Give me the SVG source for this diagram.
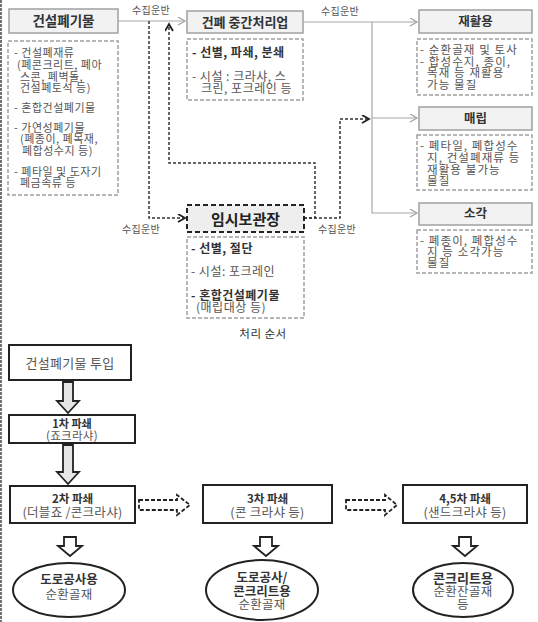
<svg xmlns="http://www.w3.org/2000/svg" width="538" height="622" viewBox="0 0 538 622">
<defs>
<style>
text{font-family:"Noto Sans CJK KR","Liberation Sans",sans-serif;}
.t{font-size:11px;fill:#555;letter-spacing:0.5px;}
.tr{font-size:11.5px;fill:#555;letter-spacing:1.1px;}
.tm{font-size:12px;fill:#555;letter-spacing:0.5px;}
.b{font-weight:bold;fill:#333;}
.ttl{font-size:12.5px;fill:#333;font-weight:bold;text-anchor:middle;}
.lbl{font-size:10px;fill:#555;text-anchor:middle;letter-spacing:0.3px;}
.hb{fill:#f2f2f2;stroke:#a0a0a0;stroke-width:1.5;}
.db{fill:#fff;stroke:#a0a0a0;stroke-width:1.5;stroke-dasharray:4,2;}
.sl{fill:none;stroke:#a8a8a8;stroke-width:1.2;}
.dl{fill:none;stroke:#333;stroke-width:1.5;stroke-dasharray:3,2;}
.bx{fill:#fff;stroke:#222;stroke-width:2;}
.c{text-anchor:middle;}
.bt{font-size:11.5px;fill:#333;font-weight:bold;text-anchor:middle;}
.nt{font-size:12.5px;fill:#555;text-anchor:middle;letter-spacing:0.3px;}
.ar{fill:#fff;stroke:#222;stroke-width:1.8;}
.ard{fill:#fff;stroke:#222;stroke-width:1.8;stroke-dasharray:4,2;}
</style>
<marker id="ag" markerWidth="10" markerHeight="10" refX="8" refY="4" orient="auto" markerUnits="userSpaceOnUse"><path d="M1,0 L8,4 L1,8" fill="none" stroke="#a0a0a0" stroke-width="1.2"/></marker>
<marker id="ad" markerWidth="10" markerHeight="10" refX="8" refY="4" orient="auto" markerUnits="userSpaceOnUse"><path d="M1,0 L8,4 L1,8" fill="none" stroke="#222" stroke-width="1.8"/></marker>
</defs>
<rect width="538" height="622" fill="#fff"/>
<line x1="1" y1="0" x2="1" y2="622" stroke="#444" stroke-width="1.5" stroke-dasharray="3,1"/>

<g id="connectors">
<path class="sl" d="M118,21 H185" marker-end="url(#ag)"/>
<path class="sl" d="M303,22 H417" marker-end="url(#ag)"/>
<path class="sl" d="M372,22 V213 H417" marker-end="url(#ag)"/>
<path class="sl" d="M372,118 H417" marker-end="url(#ag)"/>
<path class="dl" d="M149,21 V218 H185" marker-end="url(#ad)"/>
<path class="dl" d="M304,218 H315 V163 H169 V24" marker-end="url(#ad)"/>
<path class="dl" d="M304,218 H340 V119 H369" marker-end="url(#ad)"/>
<text class="lbl" x="151" y="14">수집운반</text>
<text class="lbl" x="340" y="15">수집운반</text>
<text class="lbl" x="141" y="233">수집운반</text>
<text class="lbl" x="337" y="233">수집운반</text>
<path class="ar" style="fill:#e6e6e6" d="M63,382 H73 V401 H79 L68,413 L57,401 H63 Z"/>
<path class="ar" style="fill:#e6e6e6" d="M63,445 H73 V472 H79 L68,484 L57,472 H63 Z"/>
<path class="ard" d="M139,500 H177 V495 L190,505 L177,515 V510 H139 Z"/>
<path class="ard" d="M346,500 H385 V495 L397,505 L385,515 V510 H346 Z"/>
<path class="ar" d="M64,537 H76 V546 H82 L70,556 L58,546 H64 Z"/>
<path class="ar" d="M260,537 H272 V546 H278 L266,556 L254,546 H260 Z"/>
<path class="ar" d="M459,537 H471 V546 H477 L465,556 L453,546 H459 Z"/>
</g>

<g id="n-waste">
<rect class="hb" x="9" y="9" width="109" height="24"/>
<text class="ttl" x="63.5" y="26" style="font-size:13.5px">건설폐기물</text>
</g>
<g id="n-waste-detail">
<rect class="db" x="8" y="41" width="110" height="154"/>
<text class="t"><tspan x="14" y="57">- 건설폐재류</tspan><tspan x="17" y="69">(폐콘크리트, 폐아</tspan><tspan x="20" y="81">스콘, 폐벽돌,</tspan><tspan x="20" y="92">건설폐토석 등)</tspan><tspan x="14" y="112">- 혼합건설폐기물</tspan><tspan x="14" y="132">- 가연성폐기물</tspan><tspan x="20" y="143">(폐종이, 폐목재,</tspan><tspan x="22" y="155">폐합성수지 등)</tspan><tspan x="14" y="176">- 폐타일 및 도자기</tspan><tspan x="20" y="187">폐금속류 등</tspan></text>
</g>

<g id="n-mid">
<rect class="hb" x="187" y="11" width="116" height="22"/>
<text class="ttl" x="245" y="27" style="font-size:13px">건폐 중간처리업</text>
</g>
<g id="n-mid-detail">
<rect class="db" x="187" y="39" width="116" height="61"/>
<text class="tm b" x="192" y="57">- 선별, 파쇄, 분쇄</text>
<text class="tm"><tspan x="192" y="81">- 시설 : 크라샤, 스</tspan><tspan x="201" y="93">크린, 포크레인 등</tspan></text>
</g>

<g id="n-recycle">
<rect class="hb" x="419" y="10" width="113" height="23"/>
<text class="ttl" x="475.5" y="26">재활용</text>
</g>
<g id="n-recycle-detail">
<rect class="db" x="417" y="39" width="115" height="56"/>
<text class="tr"><tspan x="420" y="54">- 순환골재 및 토사</tspan><tspan x="420" y="66">- 합성수지, 종이,</tspan><tspan x="427" y="77">목재 등 재활용</tspan><tspan x="427" y="89">가능 물질</tspan></text>
</g>

<g id="n-landfill">
<rect class="hb" x="419" y="107" width="113" height="23"/>
<text class="ttl" x="475.5" y="123">매립</text>
</g>
<g id="n-landfill-detail">
<rect class="db" x="417" y="135" width="115" height="55"/>
<text class="tr"><tspan x="420" y="150">- 폐타일, 폐합성수</tspan><tspan x="427" y="162">지, 건설폐재류 등</tspan><tspan x="427" y="174">재활용 불가능</tspan><tspan x="427" y="185">물질</tspan></text>
</g>

<g id="n-incin">
<rect class="hb" x="419" y="203" width="113" height="22"/>
<text class="ttl" x="475.5" y="218">소각</text>
</g>
<g id="n-incin-detail">
<rect class="db" x="417" y="230" width="115" height="43"/>
<text class="tr"><tspan x="420" y="245">- 폐종이, 폐합성수</tspan><tspan x="427" y="256">지 등 소각가능</tspan><tspan x="427" y="267">물질</tspan></text>
</g>

<g id="n-temp">
<rect x="187" y="205" width="117" height="27" fill="#eee" stroke="#222" stroke-width="2" stroke-dasharray="5,3"/>
<text class="ttl" x="245.5" y="224.5" style="font-size:15px;fill:#222">임시보관장</text>
</g>
<g id="n-temp-detail">
<rect class="db" x="187" y="237" width="117" height="81"/>
<text class="tm b" x="191" y="253">- 선별, 절단</text>
<text class="tm" x="191" y="276">- 시설: 포크레인</text>
<text class="tm"><tspan x="191" y="300" class="b">- 혼합건설폐기물</tspan><tspan x="196" y="312">(매립대상 등)</tspan></text>
</g>

<text x="263" y="338" class="c" style="font-size:11.5px;fill:#333;letter-spacing:0.5px">처리 순서</text>

<g id="b-input">
<rect class="bx" x="9" y="345" width="122" height="35"/>
<text class="nt" x="70" y="367.5" style="font-size:13px">건설폐기물 투입</text>
</g>
<g id="b-1st">
<rect class="bx" x="9" y="415" width="126" height="28"/>
<text class="bt" style="font-size:11px"><tspan x="72" y="428">1차 파쇄</tspan><tspan x="72" y="440" class="nt" style="font-size:11.5px;font-weight:normal">(죠크라샤)</tspan></text>
</g>
<g id="b-2nd">
<rect class="bx" x="10" y="486" width="125" height="37"/>
<text class="bt"><tspan x="72.5" y="503">2차 파쇄</tspan><tspan x="72.5" y="517" class="nt" style="font-weight:normal">(더블죠 /콘크라샤)</tspan></text>
</g>
<g id="b-3rd">
<rect class="bx" x="203" y="485" width="129" height="38"/>
<text class="bt"><tspan x="267.5" y="503">3차 파쇄</tspan><tspan x="267.5" y="517" class="nt" style="font-weight:normal">(콘 크라샤 등)</tspan></text>
</g>
<g id="b-45th">
<rect class="bx" x="403" y="485" width="124" height="38"/>
<text class="bt"><tspan x="465" y="503">4,5차 파쇄</tspan><tspan x="465" y="517" class="nt" style="font-weight:normal">(샌드크라샤 등)</tspan></text>
</g>
<g id="e-road">
<ellipse class="bx" cx="69" cy="590" rx="56" ry="27"/>
<text class="bt" style="font-size:12.5px"><tspan x="69" y="584">도로공사용</tspan><tspan x="69" y="599" class="nt" style="font-weight:normal">순환골재</tspan></text>
</g>
<g id="e-road-concrete">
<ellipse class="bx" cx="262" cy="590" rx="56" ry="30"/>
<text class="bt" style="font-size:12.5px"><tspan x="262" y="582">도로공사/</tspan><tspan x="262" y="596">콘크리트용</tspan><tspan x="262" y="609" class="nt" style="font-weight:normal">순환골재</tspan></text>
</g>
<g id="e-concrete">
<ellipse class="bx" cx="463" cy="590" rx="50" ry="27"/>
<text class="bt" style="font-size:13px"><tspan x="463" y="583">콘크리트용</tspan><tspan x="463" y="596" class="nt" style="font-weight:normal">순환잔골재</tspan><tspan x="463" y="609" class="nt" style="font-weight:normal">등</tspan></text>
</g>
</svg>
